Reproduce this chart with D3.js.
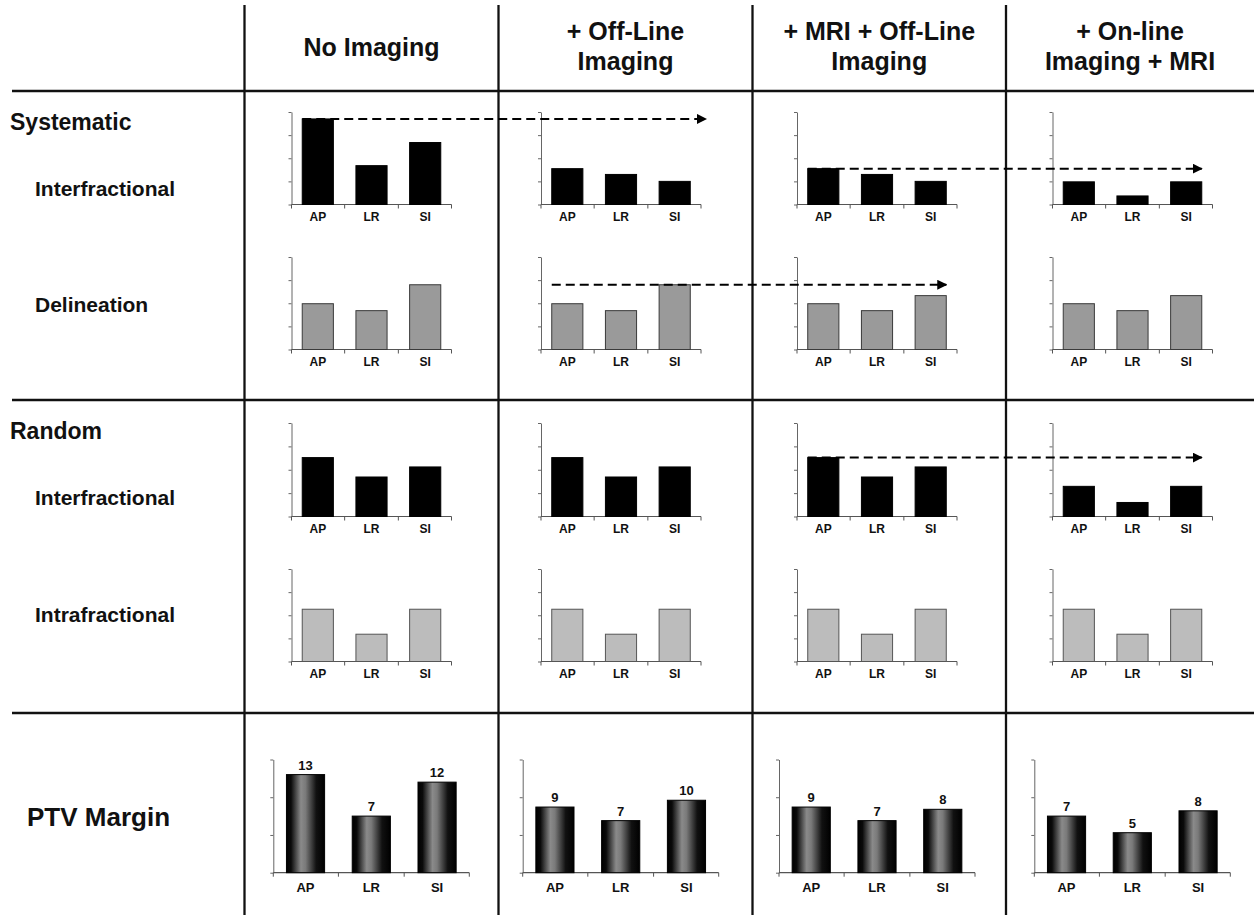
<!DOCTYPE html>
<html><head><meta charset="utf-8">
<script src="https://cdn.jsdelivr.net/npm/d3@7"></script>
<style>
body{margin:0;background:#fff}
svg{display:block}
text{font-family:"Liberation Sans",Arial,Helvetica,sans-serif;font-weight:bold;fill:#111}
</style>
</head><body>
<svg id="chart" width="1254" height="915"></svg>
<script>
// ---------- data ----------
const headerLines = [["No Imaging"], ["+ Off-Line", "Imaging"], ["+ MRI + Off-Line", "Imaging"], ["+ On-line", "Imaging + MRI"]];
const sections = ["Systematic", "Random"];
const rowLabels = ["Interfractional", "Delineation", "Interfractional", "Intrafractional"];
const ptvTitle = "PTV Margin";
const directions = ["AP", "LR", "SI"];

// bar heights (arbitrary units, axis 0-4) per strategy column
const sysInterfractional = [[3.7, 1.68, 2.68], [1.55, 1.3, 1.0], [1.55, 1.3, 1.0], [0.98, 0.37, 0.98]];
const sysDelineation     = [[1.98, 1.68, 2.8], [1.98, 1.68, 2.8], [1.98, 1.68, 2.33], [1.98, 1.68, 2.33]];
const randInterfractional= [[2.52, 1.69, 2.12], [2.52, 1.69, 2.12], [2.52, 1.69, 2.12], [1.29, 0.6, 1.29]];
const randIntrafractional= [[2.26, 1.18, 2.26], [2.26, 1.18, 2.26], [2.26, 1.18, 2.26], [2.26, 1.18, 2.26]];
const smallTicks = [0, 1, 2, 3, 4];

// PTV margin (mm)
const ptvValues = [[13, 7.5, 12], [8.7, 6.9, 9.6], [8.7, 6.9, 8.4], [7.5, 5.3, 8.2]];
const ptvLabels = [[13, 7, 12], [9, 7, 10], [9, 7, 8], [7, 5, 8]];
const ptvTicks = [0, 5, 10, 15];

// dashed arrows: row index, source column, reference direction, target column
const arrowRows = [0, 0, 1, 2];
const arrowFrom = [0, 2, 1, 2];
const arrowRef  = ["AP", "AP", "SI", "AP"];
const arrowTo   = [1, 3, 2, 3];

// ---------- layout ----------
const W = 1254, H = 915;
const colLeft = [244.5, 498.5, 752.5, 1006];
const smallX0 = [291.5, 541, 797, 1052.5];
const smallW = 160;
const rowTop = [112, 257, 423, 569];
const rowBase = [204.5, 349.5, 516.5, 661.5];
const ptvX0 = [273.3, 522.7, 779, 1034.3];
const ptvW = 196;
const ptvTop = 759.5, ptvBase = 872.7;
const pInner = 0.42, pOuter = 0.2;

const rowsData = [sysInterfractional, sysDelineation, randInterfractional, randIntrafractional];
const rowFill = ["#000", "#9a9a9a", "#000", "#bcbcbc"];
const rowStroke = ["#000", "#3a3a3a", "#000", "#555"];

const svg = d3.select("#chart");
const defs = svg.append("defs");
const grad = defs.append("linearGradient").attr("id", "ptvGrad").attr("x1", 0).attr("x2", 1).attr("y1", 0).attr("y2", 0);
[[0, "#000"], [0.12, "#0a0a0a"], [0.38, "#8a8a8a"], [0.5, "#7a7a7a"], [0.78, "#111"], [1, "#000"]]
  .forEach(([o, c]) => grad.append("stop").attr("offset", o).attr("stop-color", c));
const mk = defs.append("marker").attr("id", "arrowHead").attr("viewBox", "0 0 10 10")
  .attr("refX", 9).attr("refY", 5).attr("markerWidth", 5).attr("markerHeight", 5)
  .attr("markerUnits", "strokeWidth").attr("orient", "auto");
mk.append("path").attr("d", "M0,0 L10,5 L0,10 Z").attr("fill", "#000");

// ---------- grid ----------
const grid = svg.append("g").attr("stroke", "#111").attr("stroke-width", 2.3);
[91, 400, 713].forEach(y => grid.append("line").attr("x1", 12).attr("x2", W).attr("y1", y).attr("y2", y));
colLeft.forEach(x => grid.append("line").attr("x1", x).attr("x2", x).attr("y1", 5).attr("y2", H));

// ---------- headers ----------
headerLines.forEach((lines, c) => {
  const cx = (colLeft[c] + (c < 3 ? colLeft[c + 1] : W)) / 2;
  const t = svg.append("text").attr("text-anchor", "middle").attr("font-size", 25);
  if (lines.length === 1) t.append("tspan").attr("x", cx).attr("y", 56).text(lines[0]);
  else lines.forEach((l, i) => t.append("tspan").attr("x", cx).attr("y", 40 + i * 30).text(l));
});

// ---------- left labels ----------
svg.append("text").attr("x", 10).attr("y", 130).attr("font-size", 23).text(sections[0]);
svg.append("text").attr("x", 10).attr("y", 439).attr("font-size", 23).text(sections[1]);
const labelY = [196, 312, 505, 622];
rowLabels.forEach((l, i) => svg.append("text").attr("x", 35).attr("y", labelY[i]).attr("font-size", 21).text(l));
svg.append("text").attr("x", 27).attr("y", 826).attr("font-size", 26).text(ptvTitle);

// ---------- small chart helper ----------
function drawChart(g, x0, w, top, base, domainMax, ticks, values, fill, stroke, catSize, catOffset) {
  const x = d3.scaleBand().domain(directions).range([x0, x0 + w]).paddingInner(pInner).paddingOuter(pOuter);
  const y = d3.scaleLinear().domain([0, domainMax]).range([base, top]);
  // y axis
  const ya = g.append("g").attr("transform", `translate(${x0},0)`)
    .call(d3.axisLeft(y).tickValues(ticks).tickSize(3).tickSizeOuter(0).tickFormat(""));
  ya.selectAll("path,line").attr("stroke", "#666").attr("stroke-width", 1);
  // x axis line with boundary ticks
  const step = x.step();
  const bounds = [x0].concat(directions.slice(1).map(d => x(d) - step * pInner / 2)).concat([x0 + w]);
  g.append("line").attr("x1", x0).attr("x2", x0 + w).attr("y1", base).attr("y2", base).attr("stroke", "#555").attr("stroke-width", 1.2);
  g.selectAll(".bt").data(bounds).join("line").attr("x1", d => d).attr("x2", d => d)
    .attr("y1", base).attr("y2", base + 4).attr("stroke", "#555");
  // bars
  g.selectAll(".bar").data(values).join("rect")
    .attr("x", (d, i) => x(directions[i])).attr("width", x.bandwidth())
    .attr("y", d => y(d)).attr("height", d => base - y(d))
    .attr("fill", fill).attr("stroke", stroke).attr("stroke-width", 1);
  // category labels
  g.selectAll(".cat").data(directions).join("text").attr("text-anchor", "middle")
    .attr("font-size", catSize).attr("x", d => x(d) + x.bandwidth() / 2).attr("y", base + catOffset).text(d => d);
  return { x, y };
}

const scales = [];
rowsData.forEach((rowVals, r) => {
  scales[r] = [];
  rowVals.forEach((vals, c) => {
    const g = svg.append("g");
    scales[r][c] = drawChart(g, smallX0[c], smallW, rowTop[r], rowBase[r], 4, smallTicks, vals, rowFill[r], rowStroke[r], 12, 16);
  });
});

// PTV row
ptvValues.forEach((vals, c) => {
  const g = svg.append("g");
  const s = drawChart(g, ptvX0[c], ptvW, ptvTop, ptvBase, 15, ptvTicks, vals, "url(#ptvGrad)", "#000", 13, 19);
  g.selectAll(".val").data(vals).join("text").attr("text-anchor", "middle").attr("font-size", 13)
    .attr("x", (d, i) => s.x(directions[i]) + s.x.bandwidth() / 2).attr("y", d => s.y(d) - 5)
    .text((d, i) => ptvLabels[c][i]);
});

// ---------- dashed arrows ----------
arrowRows.forEach((r, k) => {
  const src = scales[r][arrowFrom[k]];
  const tgt = scales[r][arrowTo[k]];
  const refIdx = directions.indexOf(arrowRef[k]);
  const yv = src.y(rowsData[r][arrowFrom[k]][refIdx]);
  const x1 = src.x("AP");
  let x2 = tgt.x("SI") + tgt.x.bandwidth();
  if (k === 0) x2 = tgt.x.range()[1] + 5;
  svg.append("line").attr("x1", x1).attr("x2", x2).attr("y1", yv).attr("y2", yv)
    .attr("stroke", "#000").attr("stroke-width", 2).attr("stroke-dasharray", "9,5")
    .attr("marker-end", "url(#arrowHead)");
});
</script>
</body></html>
